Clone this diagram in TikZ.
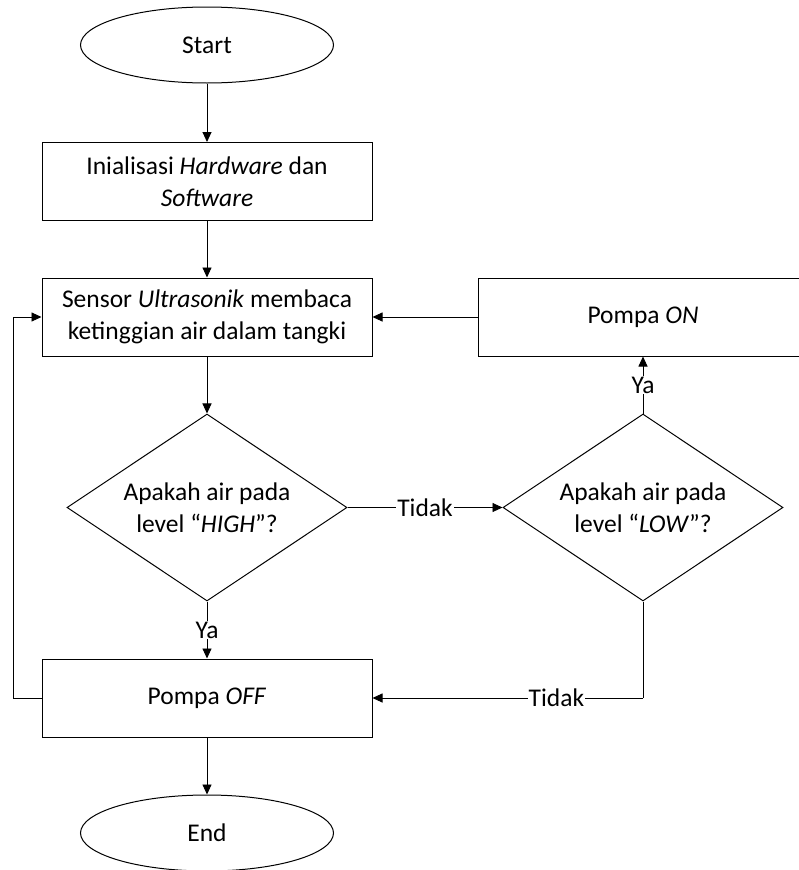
\documentclass[tikz,border=0pt]{standalone}
\usepackage{fontspec}
\setmainfont{Carlito}
\usetikzlibrary{shapes.geometric,arrows.meta}
\begin{document}
\begin{tikzpicture}[x=1pt,y=-1pt,
  every node/.style={font=\fontsize{25.5}{31.5}\selectfont, align=center},
  term/.style={ellipse, draw, line width=1pt, inner sep=0pt, minimum width=253pt, minimum height=76pt},
  proc/.style={rectangle, draw, line width=1pt, inner sep=0pt, minimum width=330pt, minimum height=78pt},
  dec/.style={diamond, draw, line width=1pt, inner sep=0pt, aspect=1.5, minimum width=280pt, minimum height=187pt},
  arr/.style={draw, line width=0.9pt, -{Triangle[length=10pt,width=9pt]}},
  lbl/.style={fill=white, inner sep=1pt}
]
\useasboundingbox (0,0) rectangle (798,870);
\node[term] (start) at (207,45) {Start};
\node[proc] (init) at (207,181.5) {Inialisasi \textit{Hardware} dan\\\textit{Software}};
\node[proc] (sensor) at (207,317) {Sensor \textit{Ultrasonik} membaca\\ketinggian air dalam tangki};
\node[dec] (high) at (207,507.5) {Apakah air pada\\level “\textit{HIGH}”?};
\node[proc] (on) at (643,317) {Pompa \textit{ON}};
\node[dec] (low) at (643,507.5) {Apakah air pada\\level “\textit{LOW}”?};
\node[proc] (off) at (207,698) {Pompa \textit{OFF}};
\node[term] (end) at (207,833) {End};
\coordinate (loopc) at (13,698);
\coordinate (lowc) at (643,698);

\draw[arr] (start) -- (init);
\draw[arr] (init) -- (sensor);
\draw[arr] (sensor) -- (high);
\draw[arr] (high.east) -- node[lbl] {Tidak} (low.west);
\draw[arr] (low.north) -- node[lbl] {Ya} (on.south);
\draw[arr] (on.west) -- (sensor.east);
\draw[arr] (high.south) -- node[lbl] {Ya} (off.north);
\draw[line width=0.9pt] (low.south) -- (lowc);
\draw[arr] (lowc) -- node[lbl, pos=0.32] {Tidak} (off.east);
\draw[arr] (off.west) -- (loopc) |- (sensor.west);
\draw[arr] (off) -- (end);
\end{tikzpicture}
\end{document}
